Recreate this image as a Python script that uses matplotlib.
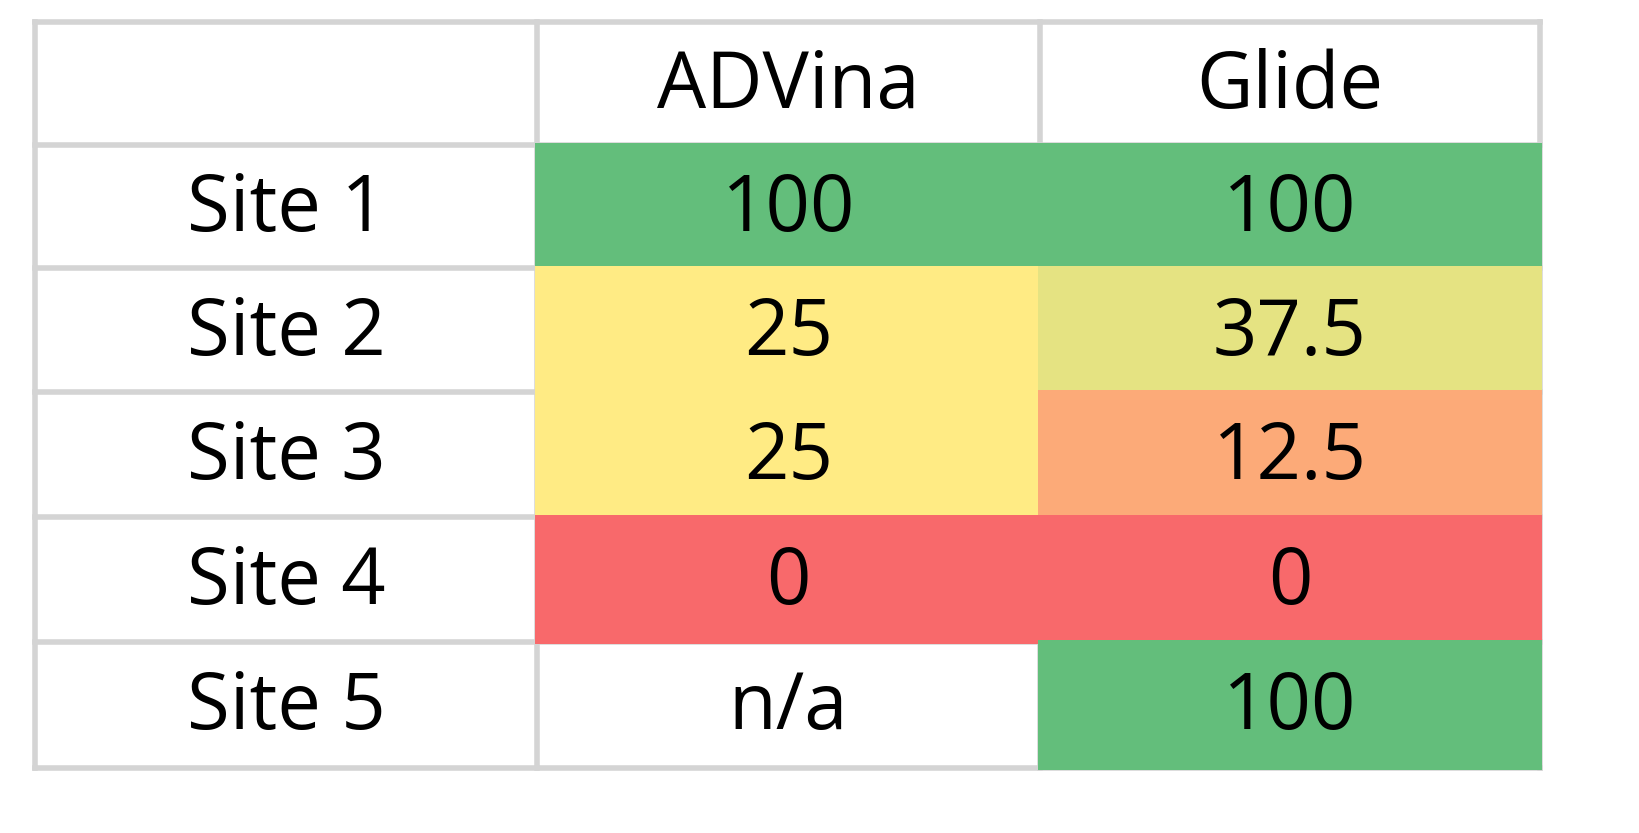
import numpy as np
import matplotlib.pyplot as plt
from matplotlib.colors import LinearSegmentedColormap
from matplotlib.patches import Rectangle

columns = ["ADVina", "Glide"]
rows = ["Site 1", "Site 2", "Site 3", "Site 4", "Site 5"]
advina = [100, 25, 25, 0, None]
glide = [100, 37.5, 12.5, 0, 100]

# Excel-style 3-colour scale: red -> yellow (at 25) -> green
cmap = LinearSegmentedColormap.from_list(
    "excel", [(0.0, "#F8696B"), (0.25, "#FFEB84"), (1.0, "#63BE7B")])

fig = plt.figure(figsize=(16.4, 8.33), dpi=100)
ax = fig.add_axes([0, 0, 1, 1])
ax.set_xlim(0, 1640)
ax.set_ylim(833, 0)
ax.axis("off")

xs = [35, 537, 1040, 1540]
ys = [22, 145, 268, 392, 517, 642, 768]
grid = "#D4D4D4"
for x in xs:
    ax.plot([x, x], [ys[0], ys[-1]], color=grid, lw=4, solid_capstyle="projecting")
for y in ys:
    ax.plot([xs[0], xs[-1]], [y, y], color=grid, lw=4, solid_capstyle="projecting")

font = dict(fontsize=56, family=["Open Sans", "DejaVu Sans"], ha="center", va="center")

for j, name in enumerate(columns):
    ax.text((xs[j + 1] + xs[j + 2]) / 2, (ys[0] + ys[1]) / 2 + 4, name, **font)

for i, name in enumerate(rows):
    yc = (ys[i + 1] + ys[i + 2]) / 2 + 4
    ax.text((xs[0] + xs[1]) / 2, yc, name, **font)
    for j, vals in enumerate([advina, glide]):
        v = vals[i]
        x0, x1 = xs[j + 1], xs[j + 2]
        y0, y1 = ys[i + 1], ys[i + 2]
        if v is None:
            ax.text((x0 + x1) / 2, yc, "n/a", **font)
            continue
        ax.add_patch(Rectangle((x0 - 2, y0 - 2), x1 - x0 + 4, y1 - y0 + 4,
                               facecolor=cmap(v / 100), edgecolor="none", zorder=3))
        label = f"{v:g}"
        ax.text((x0 + x1) / 2, yc, label, zorder=4, **font)

fig.savefig("out.png", dpi=100)
